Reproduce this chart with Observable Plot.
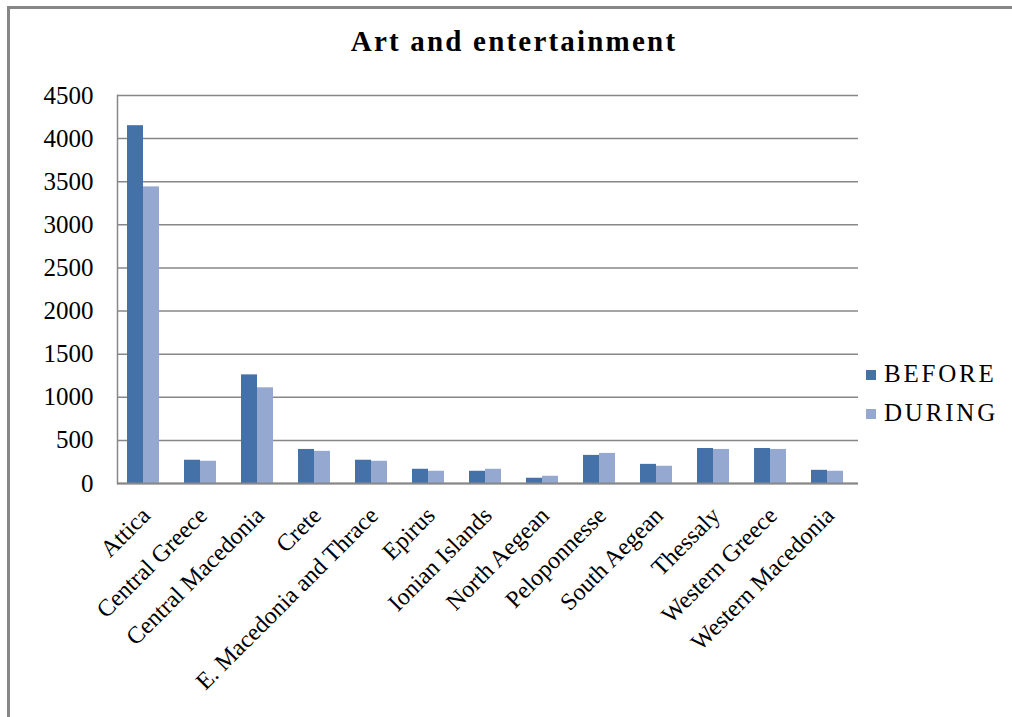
<!DOCTYPE html>
<html>
<head>
<meta charset="utf-8">
<script src="https://cdn.jsdelivr.net/npm/d3@7"></script>
<script src="https://cdn.jsdelivr.net/npm/@observablehq/plot@0.6"></script>
<style>
  html, body { margin: 0; padding: 0; background: #fff; overflow: hidden; }
  body { width: 1012px; height: 717px; position: relative; font-family: "Liberation Serif", "DejaVu Serif", serif; }
  #border { position: absolute; left: 7px; top: 6px; width: 1002px; height: 708px; border-left: 3px solid #878787; border-top: 3px solid #878787; }
  #title { position: absolute; left: 8px; width: 1012px; top: 27px; text-align: center; font-size: 29px; line-height: 1; font-weight: bold; letter-spacing: 2.2px; color: #000; }
  #chart { position: absolute; left: 0; top: 60px; }
  .leg { position: absolute; left: 866px; font-size: 25px; letter-spacing: 2.8px; color: #000; line-height: 1; }
  .leg span.sw { display: inline-block; width: 10px; height: 10px; margin-right: 8px; vertical-align: 2px; }
</style>
</head>
<body>
<div id="border"></div>
<div id="title">Art and entertainment</div>
<div id="chart"></div>
<div id="legend"></div>
<script>
const regions = ["Attica", "Central Greece", "Central Macedonia", "Crete", "E. Macedonia and Thrace", "Epirus", "Ionian Islands", "North Aegean", "Peloponnesse", "South Aegean", "Thessaly", "Western Greece", "Western Macedonia"];
const series = ["BEFORE", "DURING"];
const before = [4150, 270, 1260, 395, 270, 165, 142, 61, 326, 222, 406, 406, 153];
const during = [3440, 258, 1110, 373, 258, 142, 165, 84, 349, 200, 395, 395, 142];
const colors = ["#4472A8", "#95A9D0"];
const yTicks = [0, 500, 1000, 1500, 2000, 2500, 3000, 3500, 4000, 4500];

const data = [];
regions.forEach((r, i) => {
  data.push({region: r, series: "BEFORE", value: before[i]});
  data.push({region: r, series: "DURING", value: during[i]});
});

const chart = Plot.plot({
  width: 880,
  height: 650,
  marginTop: 35,
  marginLeft: 116,
  marginRight: 22,
  marginBottom: 227,
  style: {fontFamily: "'Liberation Serif', 'DejaVu Serif', serif", color: "#000", background: "transparent"},
  fx: {domain: regions, padding: 0, label: null},
  x: {domain: series, paddingInner: 0, paddingOuter: 0.78, align: 0.4, axis: null},
  y: {domain: [0, 4500], label: null},
  color: {domain: series, range: colors},
  marks: [
    Plot.gridY(yTicks, {stroke: "#878787", strokeOpacity: 1, strokeWidth: 1.5}),
    Plot.barY(data, {fx: "region", x: "series", y: "value", fill: "series"}),
    Plot.ruleY([0], {stroke: "#878787", strokeWidth: 2}),
    Plot.frame({anchor: "left", facet: "super", stroke: "#878787", strokeWidth: 1.5}),
    Plot.axisY(yTicks, {tickSize: 0, tickPadding: 24, fontSize: 25, label: null, tickFormat: d => String(d), style: {letterSpacing: "1.5px"}}),
    Plot.axisFx({anchor: "bottom", tickRotate: -45, tickSize: 0, tickPadding: 28, fontSize: 24, label: null, style: {letterSpacing: "1px"}})
  ]
});
document.getElementById("chart").appendChild(chart);

const legend = document.getElementById("legend");
series.forEach((s, i) => {
  const d = document.createElement("div");
  d.className = "leg";
  d.style.top = (361 + i * 39) + "px";
  d.innerHTML = `<span class="sw" style="background:${colors[i]}"></span>${s}`;
  legend.appendChild(d);
});
</script>
</body>
</html>
